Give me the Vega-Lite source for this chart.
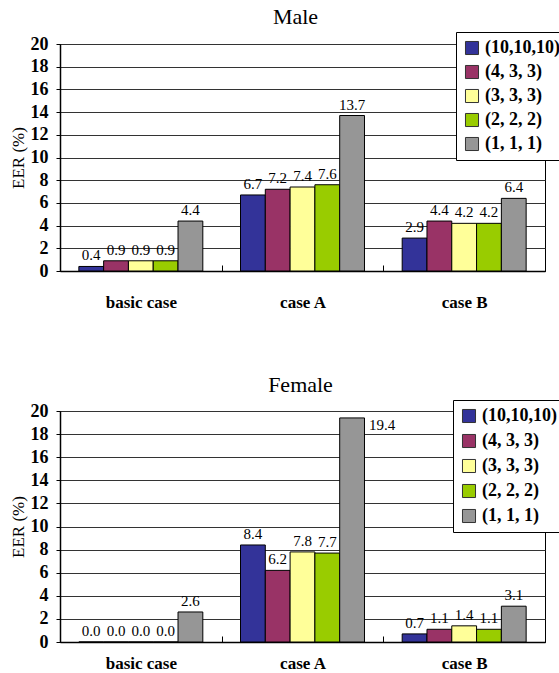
{
  "$schema": "https://vega.github.io/schema/vega-lite/v6.json",
  "padding": {"left": 8, "top": 5, "right": 0, "bottom": 0},
  "background": "white",
  "config": {
    "font": "Liberation Serif",
    "view": {"stroke": "#000", "strokeWidth": 1},
    "title": {"font": "Liberation Serif", "fontSize": 22, "fontWeight": "normal", "color": "#000", "offset": 3},
    "axis": {"labelFont": "Liberation Serif", "titleFont": "Liberation Serif", "labelColor": "#000", "titleColor": "#000", "domainColor": "#000", "tickColor": "#000"}
  },
  "data": {"values": [
    {"sex": "Male", "c": "basic case", "s": "(10,10,10)", "v": 0.4},
    {"sex": "Male", "c": "basic case", "s": "(4, 3, 3)", "v": 0.9},
    {"sex": "Male", "c": "basic case", "s": "(3, 3, 3)", "v": 0.9},
    {"sex": "Male", "c": "basic case", "s": "(2, 2, 2)", "v": 0.9},
    {"sex": "Male", "c": "basic case", "s": "(1, 1, 1)", "v": 4.4},
    {"sex": "Male", "c": "case A", "s": "(10,10,10)", "v": 6.7},
    {"sex": "Male", "c": "case A", "s": "(4, 3, 3)", "v": 7.2},
    {"sex": "Male", "c": "case A", "s": "(3, 3, 3)", "v": 7.4},
    {"sex": "Male", "c": "case A", "s": "(2, 2, 2)", "v": 7.6},
    {"sex": "Male", "c": "case A", "s": "(1, 1, 1)", "v": 13.7},
    {"sex": "Male", "c": "case B", "s": "(10,10,10)", "v": 2.9},
    {"sex": "Male", "c": "case B", "s": "(4, 3, 3)", "v": 4.4},
    {"sex": "Male", "c": "case B", "s": "(3, 3, 3)", "v": 4.2},
    {"sex": "Male", "c": "case B", "s": "(2, 2, 2)", "v": 4.2},
    {"sex": "Male", "c": "case B", "s": "(1, 1, 1)", "v": 6.4},
    {"sex": "Female", "c": "basic case", "s": "(10,10,10)", "v": 0.0},
    {"sex": "Female", "c": "basic case", "s": "(4, 3, 3)", "v": 0.0},
    {"sex": "Female", "c": "basic case", "s": "(3, 3, 3)", "v": 0.0},
    {"sex": "Female", "c": "basic case", "s": "(2, 2, 2)", "v": 0.0},
    {"sex": "Female", "c": "basic case", "s": "(1, 1, 1)", "v": 2.6},
    {"sex": "Female", "c": "case A", "s": "(10,10,10)", "v": 8.4},
    {"sex": "Female", "c": "case A", "s": "(4, 3, 3)", "v": 6.2},
    {"sex": "Female", "c": "case A", "s": "(3, 3, 3)", "v": 7.8},
    {"sex": "Female", "c": "case A", "s": "(2, 2, 2)", "v": 7.7},
    {"sex": "Female", "c": "case A", "s": "(1, 1, 1)", "v": 19.4},
    {"sex": "Female", "c": "case B", "s": "(10,10,10)", "v": 0.7},
    {"sex": "Female", "c": "case B", "s": "(4, 3, 3)", "v": 1.1},
    {"sex": "Female", "c": "case B", "s": "(3, 3, 3)", "v": 1.4},
    {"sex": "Female", "c": "case B", "s": "(2, 2, 2)", "v": 1.1},
    {"sex": "Female", "c": "case B", "s": "(1, 1, 1)", "v": 3.1}
  ]},
  "spacing": 62,
  "resolve": {"scale": {"color": "independent"}, "legend": {"color": "independent"}},
  "vconcat": [
    {
      "title": {"text": "Male", "dx": -7},
      "width": 485,
      "height": 227,
      "transform": [{"filter": "datum.sex === 'Male'"}],
      "encoding": {
        "x": {"field": "c", "type": "nominal", "sort": ["basic case", "case A", "case B"],
              "scale": {"paddingInner": 0, "paddingOuter": 0},
              "axis": {"title": null, "labelAngle": 0, "labelFont": "Liberation Serif", "labelFontSize": 17, "labelFontWeight": "bold", "labelPadding": 29, "tickBand": "extent", "tickSize": -6, "domainWidth": 1.5, "grid": false}},
        "xOffset": {"field": "s", "type": "nominal", "sort": ["(10,10,10)", "(4, 3, 3)", "(3, 3, 3)", "(2, 2, 2)", "(1, 1, 1)"],
                    "scale": {"paddingOuter": 0.76, "paddingInner": 0}},
        "y": {"field": "v", "type": "quantitative", "scale": {"domain": [0, 20]},
              "axis": {"title": "EER (%)", "titleFont": "Liberation Serif", "titleFontSize": 17, "titleFontWeight": "normal", "titlePadding": 3, "values": [0,2,4,6,8,10,12,14,16,18,20], "labelFont": "Liberation Serif", "labelFontSize": 18, "labelFontWeight": "bold", "tickSize": 4, "labelPadding": 8, "gridColor": "#333", "gridWidth": 1, "domainWidth": 1.5}}
      },
      "layer": [
        {"mark": {"type": "bar", "stroke": "#000", "strokeWidth": 1},
         "encoding": {"color": {"field": "s", "type": "nominal", "sort": ["(10,10,10)", "(4, 3, 3)", "(3, 3, 3)", "(2, 2, 2)", "(1, 1, 1)"],
           "scale": {"domain": ["(10,10,10)", "(4, 3, 3)", "(3, 3, 3)", "(2, 2, 2)", "(1, 1, 1)"], "range": ["#333399", "#993366", "#FFFF99", "#99CC00", "#969696"]},
           "legend": {"title": null, "orient": "none", "legendX": 396, "legendY": -12, "fillColor": "white", "strokeColor": "#000", "padding": 7, "symbolType": "square", "symbolSize": 170, "symbolStrokeColor": "#333", "symbolStrokeWidth": 1, "labelFont": "Liberation Serif", "labelFontSize": 18, "labelFontWeight": "bold", "labelColor": "#000", "rowPadding": 6, "labelOffset": 4}}}},
        {"mark": {"type": "text", "baseline": "bottom", "dy": -3, "fontSize": 15, "font": "Liberation Serif", "color": "#000"},
         "encoding": {"text": {"field": "v", "type": "quantitative", "format": ".1f"}}}
      ]
    },
    {
      "title": {"text": "Female", "dx": -2},
      "width": 485,
      "height": 231,
      "transform": [{"filter": "datum.sex === 'Female'"}],
      "encoding": {
        "x": {"field": "c", "type": "nominal", "sort": ["basic case", "case A", "case B"],
              "scale": {"paddingInner": 0, "paddingOuter": 0},
              "axis": {"title": null, "labelAngle": 0, "labelFont": "Liberation Serif", "labelFontSize": 17, "labelFontWeight": "bold", "labelPadding": 19, "tickBand": "extent", "tickSize": -6, "domainWidth": 1.5, "grid": false}},
        "xOffset": {"field": "s", "type": "nominal", "sort": ["(10,10,10)", "(4, 3, 3)", "(3, 3, 3)", "(2, 2, 2)", "(1, 1, 1)"],
                    "scale": {"paddingOuter": 0.76, "paddingInner": 0}},
        "y": {"field": "v", "type": "quantitative", "scale": {"domain": [0, 20]},
              "axis": {"title": "EER (%)", "titleFont": "Liberation Serif", "titleFontSize": 17, "titleFontWeight": "normal", "titlePadding": 3, "values": [0,2,4,6,8,10,12,14,16,18,20], "labelFont": "Liberation Serif", "labelFontSize": 18, "labelFontWeight": "bold", "tickSize": 4, "labelPadding": 8, "gridColor": "#333", "gridWidth": 1, "domainWidth": 1.5}}
      },
      "layer": [
        {"mark": {"type": "bar", "stroke": "#000", "strokeWidth": 1},
         "encoding": {"color": {"field": "s", "type": "nominal", "sort": ["(10,10,10)", "(4, 3, 3)", "(3, 3, 3)", "(2, 2, 2)", "(1, 1, 1)"],
           "scale": {"domain": ["(10,10,10)", "(4, 3, 3)", "(3, 3, 3)", "(2, 2, 2)", "(1, 1, 1)"], "range": ["#333399", "#993366", "#FFFF99", "#99CC00", "#969696"]},
           "legend": {"title": null, "orient": "none", "legendX": 393, "legendY": -11, "fillColor": "white", "strokeColor": "#000", "padding": 7, "symbolType": "square", "symbolSize": 170, "symbolStrokeColor": "#333", "symbolStrokeWidth": 1, "labelFont": "Liberation Serif", "labelFontSize": 18, "labelFontWeight": "bold", "labelColor": "#000", "rowPadding": 7, "labelOffset": 4}}}},
        {"transform": [{"filter": "datum.v < 18"}],
         "mark": {"type": "text", "baseline": "bottom", "dy": -3, "fontSize": 15, "font": "Liberation Serif", "color": "#000"},
         "encoding": {"text": {"field": "v", "type": "quantitative", "format": ".1f"}}},
        {"transform": [{"filter": "datum.v >= 18"}],
         "mark": {"type": "text", "baseline": "middle", "align": "left", "dx": 17, "dy": 7, "fontSize": 15, "font": "Liberation Serif", "color": "#000"},
         "encoding": {"text": {"field": "v", "type": "quantitative", "format": ".1f"}}}
      ]
    }
  ]
}
